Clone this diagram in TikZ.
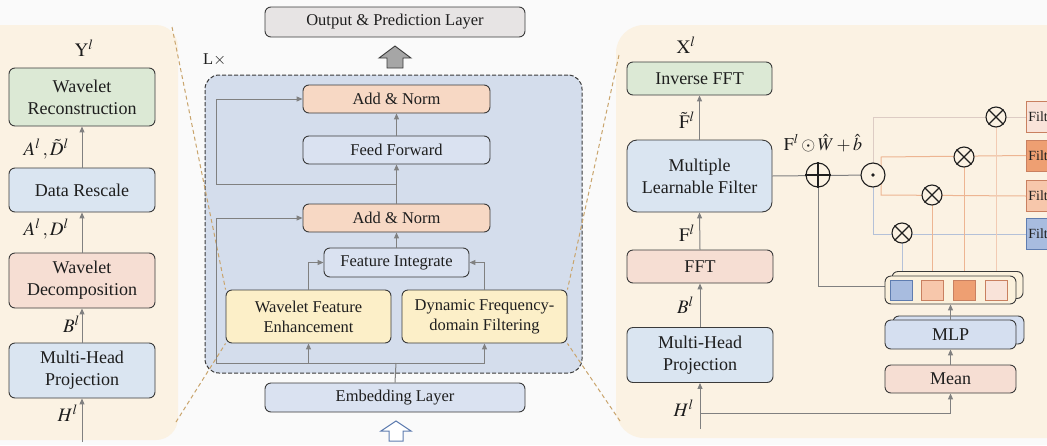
\documentclass[tikz,border=0pt]{standalone}
\usepackage{mathptmx}
\usepackage{fontspec}
\setmainfont{Liberation Serif}
\usetikzlibrary{arrows.meta}
\definecolor{bgc}{HTML}{FAFAFA}
\definecolor{panelc}{HTML}{FBF2E3}
\definecolor{greenc}{HTML}{DCE9D5}
\definecolor{bluec}{HTML}{DAE5F1}
\definecolor{pinkc}{HTML}{F6DED3}
\definecolor{midc}{HTML}{D4DDEC}
\definecolor{mblue}{HTML}{DAE2F1}
\definecolor{anc}{HTML}{F7D8C4}
\definecolor{yelc}{HTML}{FCEFC8}
\definecolor{outc}{HTML}{E7E4E4}
\definecolor{boxc}{HTML}{3A3A3A}
\definecolor{linec}{HTML}{808080}
\definecolor{dashor}{HTML}{C9A46C}
\definecolor{txtc}{HTML}{1E1E1E}
\definecolor{flA}{HTML}{F9E3D9}
\definecolor{flB}{HTML}{EE9F72}
\definecolor{flC}{HTML}{F7C7AB}
\definecolor{flD}{HTML}{A8BCDF}
\definecolor{orbd}{HTML}{C98060}
\definecolor{blbd}{HTML}{5F7DB0}
\definecolor{lnA}{HTML}{DDCCC4}
\definecolor{lnB}{HTML}{EDB592}
\definecolor{lnD}{HTML}{B4C1D8}
\definecolor{bankc}{HTML}{FBF1DC}
\definecolor{mlpc}{HTML}{D5DFF0}
\tikzset{
  bx/.style={draw=boxc, line width=0.9pt, rounded corners=6pt, align=center, inner sep=0pt, text=txtc},
  pfont/.style={font=\fontsize{18}{22}\selectfont},
  mfont/.style={font=\fontsize{16.5}{20}\selectfont},
  arr/.style={draw=linec, line width=1pt, -{Triangle[length=6pt,width=5pt]}},
  ln/.style={draw=linec, line width=1pt},
  lab/.style={font=\fontsize{19}{20}\selectfont, inner sep=0pt, text=txtc},
  dsh/.style={draw=dashor, line width=1pt, dash pattern=on 4pt off 3pt},
  op/.style={circle, draw=txtc, line width=1.1pt, fill=panelc, minimum size=24pt, inner sep=0pt},
  opx/.style={circle, draw=txtc, line width=1.1pt, fill=panelc, minimum size=20pt, inner sep=0pt},
  filt/.style={draw=orbd, line width=0.8pt, minimum height=31pt, text width=40pt, align=left, inner sep=2pt, font=\fontsize{14}{15}\selectfont, text=txtc},
  sq/.style={draw=orbd, line width=0.9pt, minimum width=22pt, minimum height=20pt, inner sep=0pt},
}
\begin{document}
\begin{tikzpicture}[x=1pt,y=-1pt]
\useasboundingbox (0,0) rectangle (1047,445);
\clip (0,0) rectangle (1047,445);
\fill[bgc] (0,0) rectangle (1047,445);
% panels
\fill[panelc, rounded corners=22pt] (-40,25) rectangle (178,440);
\fill[panelc, rounded corners=28pt] (616,25) rectangle (1100,438);

% ---------------- left panel ----------------
\node[bx, fill=greenc, minimum width=146pt, minimum height=58pt, pfont] (wr) at (82,97) {Wavelet\\Reconstruction};
\node[bx, fill=bluec, minimum width=146pt, minimum height=44pt, pfont] (dr) at (82,190) {Data Rescale};
\node[bx, fill=pinkc, minimum width=146pt, minimum height=55pt, pfont] (wd) at (82,280.5) {Wavelet\\Decomposition};
\node[bx, fill=bluec, minimum width=146pt, minimum height=55pt, pfont] (mhp) at (82,370.5) {Multi-Head\\Projection};
\coordinate (lin) at (82,442);
\draw[arr] (lin) -- (mhp.south);
\draw[arr] (mhp.north) -- (wd.south);
\draw[arr] (wd.north) -- (dr.south);
\draw[arr] (dr.north) -- (wr.south);
\node[lab] (ly) at (84,48) {$\mathrm{Y}^{l}$};
\node[lab, anchor=east] (lad2) at (69,149) {$A^{l}\,,\tilde{D}^{l}$};
\node[lab, anchor=east] (lad) at (69,229) {$A^{l}\,,D^{l}$};
\node[lab, anchor=east] (lb) at (80,324) {$B^{l}$};
\node[lab, anchor=east] (lh) at (78,413) {$H^{l}$};

% ---------------- middle ----------------
\node[draw=boxc, line width=1pt, fill=midc, rounded corners=14pt, dash pattern=on 4pt off 2pt, minimum width=377pt, minimum height=298pt, inner sep=0pt] (lbox) at (393.5,224) {};
\node[mfont, text=txtc, anchor=west, inner sep=0pt] (lx) at (203,60) {L$\times$};
\node[bx, fill=outc, minimum width=260pt, minimum height=30pt, mfont] (out) at (395,22) {Output \& Prediction Layer};
\node[bx, fill=anc, minimum width=187pt, minimum height=28pt, mfont] (an1) at (396.5,99) {Add \& Norm};
\node[bx, fill=mblue, minimum width=187pt, minimum height=28pt, mfont] (ff) at (396.5,150) {Feed Forward};
\node[bx, fill=anc, minimum width=187pt, minimum height=28pt, mfont] (an2) at (396.5,218) {Add \& Norm};
\node[bx, fill=mblue, minimum width=145pt, minimum height=29pt, mfont] (fi) at (396.5,262.5) {Feature Integrate};
% dashed zoom lines
\coordinate (ztl) at (172,27);
\coordinate (zbl) at (176,422);
\coordinate (ztr) at (619,55);
\coordinate (zbr) at (620,421);
\node[bx, fill=yelc, minimum width=165pt, minimum height=53pt, mfont] (wfe) at (308.5,316.5) {Wavelet Feature\\Enhancement};
\node[bx, fill=yelc, minimum width=165pt, minimum height=53pt, mfont] (dff) at (484.5,316.5) {Dynamic Frequency-\\domain Filtering};
\draw[dsh] (ztl) -- (wfe.north west);
\draw[dsh] (zbl) -- (wfe.south west);
\draw[dsh] (ztr) -- (dff.north east);
\draw[dsh] (zbr) -- (dff.south east);
\node[bx, fill=mblue, minimum width=260pt, minimum height=29pt, mfont] (emb) at (395,397.5) {Embedding Layer};
% middle connectors
\coordinate (j1) at (396,363);
\coordinate (jl) at (216,363);
\coordinate (j2) at (396.5,184);
\coordinate (jl2) at (216,184);
\draw[ln] (emb.north) -- (j1);
\draw[ln] (jl) -- (dff.south |- jl);
\draw[arr] (wfe.south |- jl) -- (wfe.south);
\draw[arr] (dff.south |- jl) -- (dff.south);
\draw[arr] (jl) |- (an2.west);
\draw[arr] (wfe.north) |- (fi.west);
\draw[arr] (dff.north) |- (fi.east);
\draw[arr] (fi.north) -- (an2.south);
\draw[arr] (an2.north) -- (ff.south);
\draw[arr] (j2) -- (jl2) |- (an1.west);
\draw[arr] (ff.north) -- (an1.south);
% block arrows
\draw[draw=boxc, line width=0.9pt, fill=linec!70] (395,46) -- (411,58) -- (403,58) -- (403,68) -- (387,68) -- (387,58) -- (379,58) -- cycle;
\draw[draw=blbd, line width=1pt, fill=white] (396,421) -- (411,431) -- (403,431) -- (403,441) -- (389,441) -- (389,431) -- (381,431) -- cycle;

% ---------------- right panel ----------------
\node[bx, fill=greenc, minimum width=145pt, minimum height=33pt, pfont] (ifft) at (699.5,78.5) {Inverse FFT};
\node[bx, fill=bluec, minimum width=145pt, minimum height=72pt, pfont, rounded corners=10pt] (mlf) at (699.5,176) {Multiple\\Learnable Filter};
\node[bx, fill=pinkc, minimum width=146pt, minimum height=33pt, pfont] (fft) at (700,266.5) {FFT};
\node[bx, fill=bluec, minimum width=146pt, minimum height=55pt, pfont] (mhp2) at (700,355) {Multi-Head\\Projection};
\node[bx, fill=pinkc, minimum width=131pt, minimum height=28pt, pfont] (mean) at (950.5,379) {Mean};
\node[bx, fill=mlpc, minimum width=131pt, minimum height=28pt] (mlpb) at (958.5,330) {};
\node[bx, fill=mlpc, minimum width=131pt, minimum height=29pt, pfont] (mlp) at (950.5,334.5) {MLP};
\node[bx, fill=bankc, minimum width=131pt, minimum height=27pt] (bankb) at (957.5,285) {};

% operator centres
\coordinate (cplus) at (818,175);
\coordinate (codot) at (873,175);
\coordinate (cx1) at (902,233);
\coordinate (cx2) at (932,195);
\coordinate (cx3) at (964,157);
\coordinate (cx4) at (996,117);
\coordinate (bt) at (881,157);
\coordinate (bb) at (881,195);

% filters
\node[filt, fill=flA, anchor=west] (fA) at (1026,117) {Filter};
\node[filt, fill=flB, anchor=west] (fB) at (1026,155.5) {Filter};
\node[filt, fill=flC, anchor=west] (fC) at (1026,196) {Filter};
\node[filt, fill=flD, draw=blbd, anchor=west] (fD) at (1026,234) {Filter};

% branch lines
\draw[draw=lnA, line width=1pt] (codot) |- (fA.west);
\draw[draw=lnB, line width=1pt] (fB.west) -- (bt) -- (bb) -- (fC.west);
\draw[draw=lnD, line width=1pt] (codot) |- (fD.west);
\draw[draw=lnD, line width=1pt] (cx1) -- (cx1 |- bankb.north);
\draw[draw=lnB, line width=1pt] (cx2) -- (cx2 |- bankb.north);
\draw[draw=lnB, line width=1pt] (cx3) -- (cx3 |- bankb.north);
\draw[draw=lnB!70, line width=1pt] (cx4) -- (cx4 |- bankb.north);
\draw[ln] (mlf.east) -- (codot);
\coordinate (bkl) at (885,286);
\draw[ln] (bkl) -| (cplus);

\node[bx, fill=bankc, minimum width=131pt, minimum height=28pt] (bank) at (950.5,290) {};
\node[sq, fill=flD, draw=blbd] (s1) at (901.5,290) {};
\node[sq, fill=flC] (s2) at (932,290) {};
\node[sq, fill=flB] (s3) at (964.5,290) {};
\node[sq, fill=flA] (s4) at (996,290) {};

% operators
\node[op] (plus) at (cplus) {};
\draw[txtc, line width=1.1pt] (plus.north) -- (plus.south) (plus.west) -- (plus.east);
\node[op] (odot) at (codot) {};
\fill[txtc] (odot.center) circle (1.8pt);
\foreach \n in {1,2,3,4}{
  \node[opx] (x\n) at (cx\n) {};
  \draw[txtc, line width=1.1pt] (x\n.north east) -- (x\n.south west) (x\n.north west) -- (x\n.south east);
}
\node[lab, font=\fontsize{18}{20}\selectfont, fill=panelc, inner sep=1pt] (eq) at (823,143) {$\mathrm{F}^{l}\odot\hat{W}+\hat{b}$};

% right arrows
\coordinate (hin) at (700,429);
\coordinate (hj) at (700,413);
\draw[arr] (hin) -- (mhp2.south);
\draw[arr] (hj) -| (mean.south);
\draw[arr] (mhp2.north) -- (fft.south);
\draw[arr] (fft.north) -- (mlf.south);
\draw[arr] (mlf.north) -- (ifft.south);
\draw[arr] (mean.north) -- (mlp.south);
\draw[arr] (mlp.north) -- (bank.south);
\node[lab] (rx) at (686,45) {$\mathrm{X}^{l}$};
\node[lab, anchor=east] (rft) at (695,120) {$\tilde{\mathrm{F}}^{l}$};
\node[lab, anchor=east] (rf) at (695,233) {$\mathrm{F}^{l}$};
\node[lab, anchor=east] (rb) at (694,305) {$B^{l}$};
\node[lab, anchor=east] (rh) at (694,408) {$H^{l}$};
\end{tikzpicture}
\end{document}
